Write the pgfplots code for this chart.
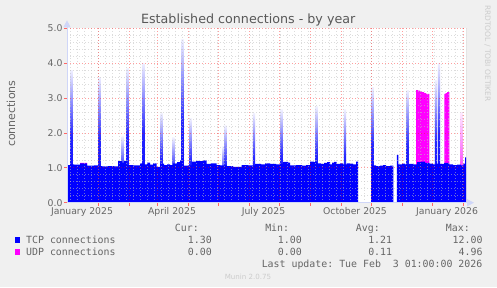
\documentclass[border=0pt]{standalone}
\usepackage{fontspec}
\setmainfont{DejaVu Sans}
\setmonofont{DejaVu Sans Mono}
\usepackage{pgfplots}
\pgfplotsset{compat=1.18}
\usetikzlibrary{arrows.meta}
\definecolor{bgcol}{HTML}{F0F0F0}
\definecolor{txt}{HTML}{666666}
\definecolor{ttl}{HTML}{585858}
\definecolor{axcol}{HTML}{CFD6F8}
\definecolor{tcp}{HTML}{0000FF}
\definecolor{udp}{HTML}{FF00FF}
\definecolor{gridgray}{HTML}{C0C0C0}
\definecolor{faint}{HTML}{CCCCCC}
\pgfplotsset{
  spk/.style={ybar, bar width=2.2, bar shift=0pt, draw=none, top color=tcp!6, bottom color=tcp, middle color=tcp!85},
  spku/.style={ybar, bar width=2.2, bar shift=0pt, draw=none, top color=udp!8, bottom color=udp, middle color=udp!60},
}
\begin{document}
\begin{tikzpicture}[x=1pt,y=1pt]
\fill[bgcol] (0,0) rectangle (497,287);
\useasboundingbox (0,0) rectangle (497,287);
\begin{axis}[
  at={(67pt,84.3pt)}, anchor=south west,
  scale only axis, width=399pt, height=174.4pt,
  xmin=-31, xmax=368, ymin=0, ymax=5,
  axis background/.style={fill=white},
  axis on top,
  axis lines*=left,
  axis line style={draw=axcol, line width=1pt},
  x axis line style={-{Triangle[length=7pt,width=7pt]}, shorten >=-8pt},
  y axis line style={-{Triangle[length=7pt,width=7pt]}, shorten >=-8pt},
  xtick={0,31,59,90,120,151,181,212,243,273,304,334,365},
  xticklabels={},
  minor xtick={-28,-21,...,364},
  ytick={0,1,...,5},
  minor y tick num=4,
  grid=both,
  major grid style={draw=red, opacity=0.38, line width=0.8pt, dash pattern=on 1pt off 2pt},
  minor grid style={draw=gridgray, opacity=0.55, line width=0.7pt, dash pattern=on 1pt off 2pt},
  tick align=outside,
  major tick length=3pt, minor tick length=0pt,
  every major tick/.append style={draw=red!60, line width=0.8pt},
  tick label style={font=\fontsize{9.3}{11}\selectfont, text=txt},
  xticklabel style={yshift=-1.5pt},
  yticklabel style={xshift=2pt},
  /pgf/number format/assume math mode=true,
  yticklabel style={/pgf/number format/fixed, /pgf/number format/fixed zerofill, /pgf/number format/precision=1},
  extra x ticks={-16,74,165.5,257,349},
  extra x tick labels={January 2025,April 2025,July 2025,October 2025,January 2026},
  extra x tick style={grid=none, major tick length=0pt},
]
% TCP + UDP (stacked total)
\addplot[const plot, fill=udp, draw=none] coordinates {
(318,3.23) (320,3.21) (322,3.19) (324,3.17) (326,3.14) (328,3.12) (331.3,3.12)} \closedcycle;
\addplot[const plot, fill=udp, draw=none] coordinates {
(346.3,3.12) (347.5,3.14) (349,3.17) (351.3,3.17)} \closedcycle;
\addplot[const plot, fill=udp, draw=none] coordinates {
(-18,1.145) (-11,1.145)} \closedcycle;
% spikes (TCP)
\addplot[spk] coordinates {(-26.3,3.80)};
\addplot[spk] coordinates {(1.3,3.6)};
\addplot[spk] coordinates {(24.7,1.89)};
\addplot[spk] coordinates {(29.7,3.85)};
\addplot[spk] coordinates {(45.3,4.0)};
\addplot[spk] coordinates {(63.7,2.56)};
\addplot[spk] coordinates {(75.3,1.86)};
\addplot[spk] coordinates {(84.5,4.68)};
\addplot[spk] coordinates {(92.7,2.4)};
\addplot[spk] coordinates {(125.3,1.6)};
\addplot[spk] coordinates {(127.5,2.2)};
\addplot[spk] coordinates {(156,2.56)};
\addplot[spk] coordinates {(183.7,2.66)};
\addplot[spk] coordinates {(218.7,2.75)};
\addplot[spk] coordinates {(247,2.66)};
\addplot[spk] coordinates {(274.7,3.3)};
\addplot[spk] coordinates {(309.7,3.23)};
\addplot[spk] coordinates {(338,3.5)};
\addplot[spk] coordinates {(341,4.0)};
% spike (UDP)
\addplot[spku] coordinates {(363.6,2.6)};
% TCP base, three segments
\addplot[const plot, fill=tcp, draw=none] coordinates {
(-31,1.08) (-28,1.10) (-24,1.09) (-18,1.13) (-11,1.06) (-4,1.07) (0,1.05) (4,1.04) (10,1.05) (16,1.04) (20,1.19) (24,1.15) (26,1.20) (28.5,1.08) (35,1.07) (42,1.13) (46,1.10) (49,1.15) (52,1.09) (55,1.13) (58.7,1.03) (62,1.12) (66,1.08) (69,1.10) (72,1.08) (75,1.13) (79,1.16) (82,1.21) (85.3,1.06) (90,1.07) (93.7,1.18) (98,1.20) (102,1.19) (105,1.21) (108.7,1.11) (113,1.13) (118.7,1.08) (122,1.07) (128.7,1.05) (135,1.03) (143.7,1.08) (150,1.07) (157,1.11) (163,1.10) (167,1.13) (172,1.11) (178,1.10) (182,1.12) (185,1.17) (190,1.15) (192,1.07) (198,1.08) (204,1.06) (208,1.08) (212,1.18) (216,1.16) (219,1.13) (223,1.11) (226,1.14) (229,1.16) (232,1.10) (234,1.15) (236,1.17) (238.7,1.11) (242,1.13) (245,1.10) (248.7,1.13) (252,1.12) (255,1.10) (258,1.18) (260,1.18)} \closedcycle;
\addplot[const plot, fill=tcp, draw=none] coordinates {
(273.7,1.07) (278,1.05) (282,1.06) (285,1.08) (288,1.05) (292,1.06) (295.3,1.06)} \closedcycle;
\addplot[const plot, fill=tcp, draw=none] coordinates {
(298.8,1.37) (300.3,1.10) (304,1.12) (307,1.10) (311,1.11) (315,1.10) (319,1.16) (323,1.18) (327,1.14) (331.3,1.12) (335,1.10) (338,1.12) (342,1.11) (346,1.14) (351,1.10) (355,1.08) (359,1.09) (363,1.07) (365.3,1.12) (367,1.30) (368,1.30)} \closedcycle;
\draw[color=gray!85, line width=1pt] (rel axis cs:1,0) -- (rel axis cs:1,1);
\end{axis}
% title and labels
\node[anchor=base, inner sep=0pt, text=ttl, font=\fontsize{12.7}{15}\selectfont] at (248.2,263) {Established connections - by year};
\node[rotate=90, anchor=base, inner sep=0pt, text=txt, font=\fontsize{11}{13}\selectfont] at (15,173.3) {connections};
\node[rotate=-90, anchor=base west, inner sep=0pt, text=faint, font=\fontsize{7.5}{9}\selectfont] at (485,282) {RRDTOOL / TOBI OETIKER};
% legend
\begin{scope}[every node/.style={inner sep=0pt, text=txt, font=\ttfamily\fontsize{9.9}{12}\selectfont}]
\node[anchor=base east] at (199,56) {Cur:};
\node[anchor=base east] at (289.3,56) {Min:};
\node[anchor=base east] at (380,56) {Avg:};
\node[anchor=base east] at (470,56) {Max:};
\fill[tcp] (14.7,44.3) rectangle (20.2,49.7);
\node[anchor=base west] at (26,43.7) {TCP connections};
\node[anchor=base east] at (212,43.7) {1.30};
\node[anchor=base east] at (302,43.7) {1.00};
\node[anchor=base east] at (392.3,43.7) {1.21};
\node[anchor=base east] at (482.7,43.7) {12.00};
\fill[udp] (14.7,32.3) rectangle (20.2,37.7);
\node[anchor=base west] at (26,31.5) {UDP connections};
\node[anchor=base east] at (212,31.5) {0.00};
\node[anchor=base east] at (302,31.5) {0.00};
\node[anchor=base east] at (392.3,31.5) {0.11};
\node[anchor=base east] at (482.7,31.5) {4.96};
\node[anchor=base east] at (482.5,19.5) {Last update: Tue Feb\ \ 3 01:00:00 2026};
\end{scope}
\node[anchor=base, inner sep=0pt, text=faint, font=\fontsize{7.1}{9}\selectfont] at (248,8) {Munin 2.0.75};
\end{tikzpicture}
\end{document}
